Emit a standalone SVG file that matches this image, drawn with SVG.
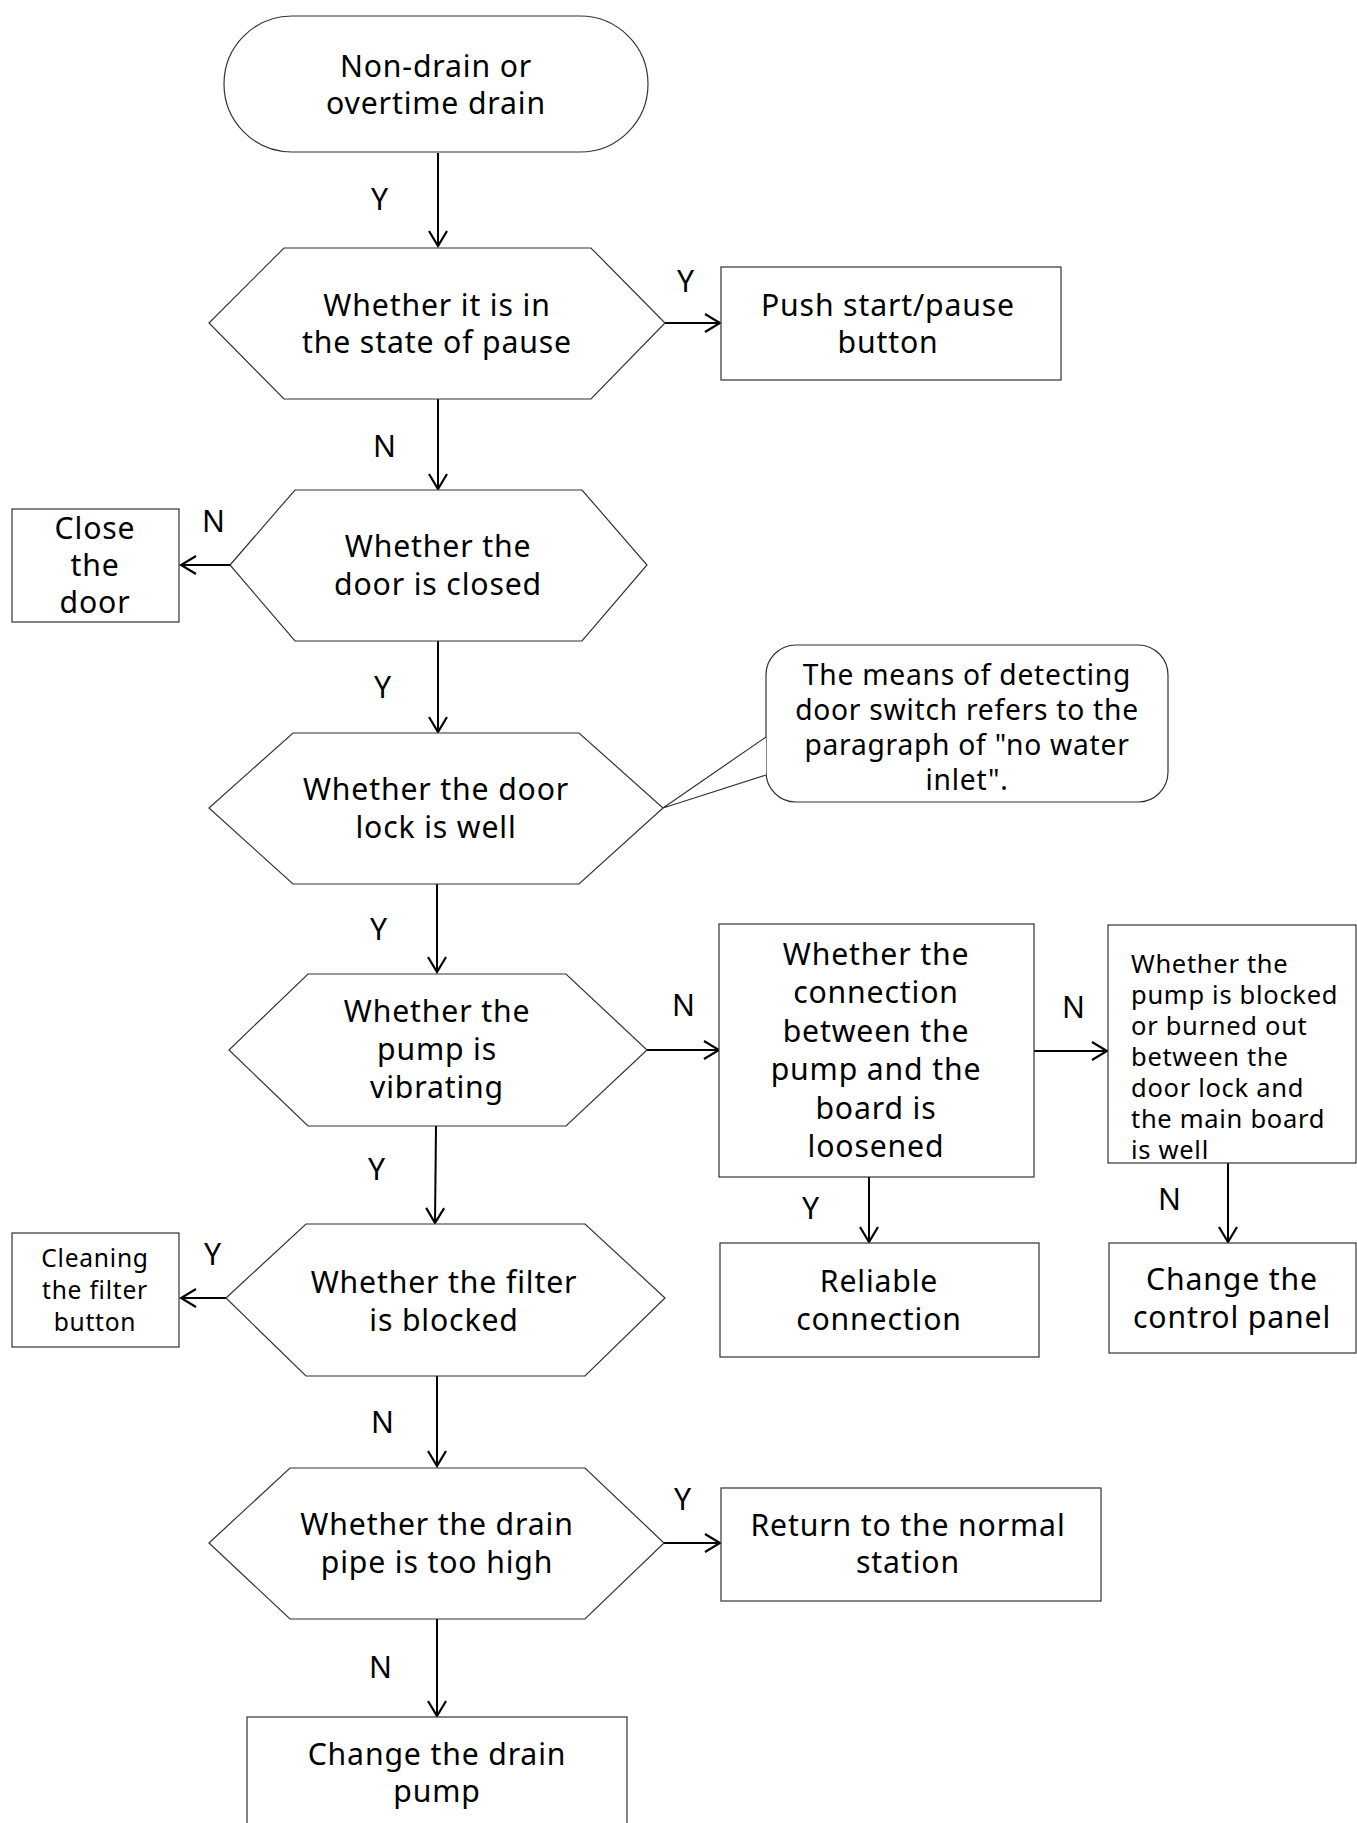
<svg xmlns="http://www.w3.org/2000/svg" width="1357" height="1823" viewBox="0 0 1357 1823">
<style>
.shape{fill:#fff;stroke:#333;stroke-width:1.2}
.t{font-family:"Noto Sans","Open Sans",sans-serif;font-size:30.2px;letter-spacing:0.85px;fill:#000;text-anchor:middle}
.n{font-size:28.2px;letter-spacing:0.75px}
.s{font-size:25.5px;letter-spacing:0.7px}
.xs{font-size:24.6px;letter-spacing:0.75px}
.l{text-anchor:start}
.con{stroke:#000;stroke-width:2;fill:none}
</style>
<defs>
<marker id="arr" viewBox="-17 -11 19 22" refX="0" refY="0" markerWidth="19" markerHeight="22" markerUnits="userSpaceOnUse" orient="auto">
<path d="M-15,-9 L0,0 L-15,9" fill="none" stroke="#000" stroke-width="2.2"/>
</marker>
</defs>
<rect width="1357" height="1823" fill="#fff"/>

<g id="connectors">
<line class="con" x1="438" y1="153" x2="438" y2="246" marker-end="url(#arr)"/>
<line class="con" x1="665" y1="323" x2="720" y2="323" marker-end="url(#arr)"/>
<line class="con" x1="438" y1="399" x2="438" y2="489" marker-end="url(#arr)"/>
<line class="con" x1="230" y1="565" x2="181" y2="565" marker-end="url(#arr)"/>
<line class="con" x1="438" y1="641" x2="438" y2="732" marker-end="url(#arr)"/>
<line class="con" x1="437" y1="884" x2="437" y2="972" marker-end="url(#arr)"/>
<line class="con" x1="647" y1="1050" x2="719" y2="1050" marker-end="url(#arr)"/>
<line class="con" x1="1034" y1="1051" x2="1107" y2="1051" marker-end="url(#arr)"/>
<line class="con" x1="869" y1="1177" x2="869" y2="1242" marker-end="url(#arr)"/>
<line class="con" x1="1228" y1="1163" x2="1228" y2="1242" marker-end="url(#arr)"/>
<line class="con" x1="436" y1="1126" x2="435" y2="1223" marker-end="url(#arr)"/>
<line class="con" x1="226" y1="1298" x2="181" y2="1298" marker-end="url(#arr)"/>
<line class="con" x1="437" y1="1376" x2="437" y2="1466" marker-end="url(#arr)"/>
<line class="con" x1="664" y1="1543" x2="720" y2="1543" marker-end="url(#arr)"/>
<line class="con" x1="437" y1="1619" x2="437" y2="1716" marker-end="url(#arr)"/>
<g class="t">
<text x="380" y="210">Y</text>
<text x="686" y="292">Y</text>
<text x="385" y="457">N</text>
<text x="214" y="532">N</text>
<text x="383" y="698">Y</text>
<text x="379" y="940">Y</text>
<text x="684" y="1016">N</text>
<text x="1074" y="1018">N</text>
<text x="811" y="1219">Y</text>
<text x="1170" y="1210">N</text>
<text x="377" y="1180">Y</text>
<text x="213" y="1265">Y</text>
<text x="383" y="1433">N</text>
<text x="683" y="1510">Y</text>
<text x="381" y="1678">N</text>
</g>
</g>

<g id="start">
<rect class="shape" x="224" y="16" width="424" height="136" rx="68" ry="68"/>
<text class="t" x="436" y="77">Non-drain or</text>
<text class="t" x="436" y="114">overtime drain</text>
</g>

<g id="pause">
<polygon class="shape" points="209,323 284,248 591,248 665,323 591,399 284,399"/>
<text class="t" x="437" y="316">Whether it is in</text>
<text class="t" x="437" y="353">the state of pause</text>
</g>

<g id="push">
<rect class="shape" x="721" y="267" width="340" height="113"/>
<text class="t" x="888" y="316">Push start/pause</text>
<text class="t" x="888" y="353">button</text>
</g>

<g id="door">
<polygon class="shape" points="230,565 295,490 582,490 647,565 582,641 295,641"/>
<text class="t" x="438" y="557">Whether the</text>
<text class="t" x="438" y="595">door is closed</text>
</g>

<g id="closedoor">
<rect class="shape" x="12" y="509" width="167" height="113"/>
<text class="t" x="95" y="539">Close</text>
<text class="t" x="95" y="576">the</text>
<text class="t" x="95" y="613">door</text>
</g>

<g id="lock">
<polygon class="shape" points="209,808 293,733 579,733 663,808 579,884 293,884"/>
<text class="t" x="436" y="800">Whether the door</text>
<text class="t" x="436" y="838">lock is well</text>
</g>

<g id="note">
<rect class="shape" x="766" y="645" width="402" height="157" rx="30" ry="30"/>
<path d="M766,737 L663,808 L766,775" fill="#fff" stroke="#333" stroke-width="1.2"/>
<g class="t n">
<text x="967" y="685">The means of detecting</text>
<text x="967" y="720">door switch refers to the</text>
<text x="967" y="755">paragraph of "no water</text>
<text x="967" y="790">inlet".</text>
</g>
</g>

<g id="vibrating">
<polygon class="shape" points="229,1050 308,974 566,974 647,1050 566,1126 308,1126"/>
<text class="t" x="437" y="1022">Whether the</text>
<text class="t" x="437" y="1060">pump is</text>
<text class="t" x="437" y="1098">vibrating</text>
</g>

<g id="connection">
<rect class="shape" x="719" y="924" width="315" height="253"/>
<text class="t" x="876" y="965">Whether the</text>
<text class="t" x="876" y="1003">connection</text>
<text class="t" x="876" y="1042">between the</text>
<text class="t" x="876" y="1080">pump and the</text>
<text class="t" x="876" y="1119">board is</text>
<text class="t" x="876" y="1157">loosened</text>
</g>

<g id="blocked">
<rect class="shape" x="1108" y="925" width="248" height="238"/>
<g class="t s l">
<text x="1131" y="973">Whether the</text>
<text x="1131" y="1004">pump is blocked</text>
<text x="1131" y="1035">or burned out</text>
<text x="1131" y="1066">between the</text>
<text x="1131" y="1097">door lock and</text>
<text x="1131" y="1128">the main board</text>
<text x="1131" y="1159">is well</text>
</g>
</g>

<g id="reliable">
<rect class="shape" x="720" y="1243" width="319" height="114"/>
<text class="t" x="879" y="1292">Reliable</text>
<text class="t" x="879" y="1330">connection</text>
</g>

<g id="panel">
<rect class="shape" x="1109" y="1243" width="247" height="110"/>
<text class="t" x="1232" y="1290">Change the</text>
<text class="t" x="1232" y="1328">control panel</text>
</g>

<g id="filter">
<polygon class="shape" points="226,1298 306,1224 585,1224 665,1298 585,1376 306,1376"/>
<text class="t" x="444" y="1293">Whether the filter</text>
<text class="t" x="444" y="1331">is blocked</text>
</g>

<g id="cleaning">
<rect class="shape" x="12" y="1233" width="167" height="114"/>
<g class="t xs">
<text x="95" y="1267">Cleaning</text>
<text x="95" y="1299">the filter</text>
<text x="95" y="1331">button</text>
</g>
</g>

<g id="drainpipe">
<polygon class="shape" points="209,1543 290,1468 585,1468 664,1543 585,1619 290,1619"/>
<text class="t" x="437" y="1535">Whether the drain</text>
<text class="t" x="437" y="1573">pipe is too high</text>
</g>

<g id="normal">
<rect class="shape" x="721" y="1488" width="380" height="113"/>
<text class="t" x="908" y="1536">Return to the normal</text>
<text class="t" x="908" y="1573">station</text>
</g>

<g id="drainpump">
<rect class="shape" x="247" y="1717" width="380" height="115"/>
<text class="t" x="437" y="1765">Change the drain</text>
<text class="t" x="437" y="1802">pump</text>
</g>
</svg>
